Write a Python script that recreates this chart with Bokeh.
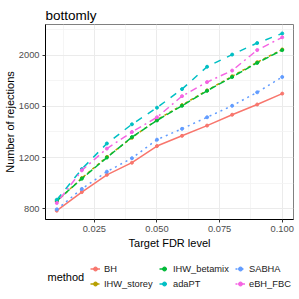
from bokeh.plotting import figure
from bokeh.layouts import column
from bokeh.models import FixedTicker, Legend, LegendItem, Label, NumeralTickFormatter, Range1d
from bokeh.embed import file_html
from bokeh.resources import INLINE

fdr_levels = [0.01, 0.02, 0.03, 0.04, 0.05, 0.06, 0.07, 0.08, 0.09, 0.10]
methods = ["BH", "IHW_storey", "IHW_betamix", "adaPT", "SABHA", "eBH_FBC"]
bh = [785, 930, 1065, 1160, 1290, 1370, 1450, 1535, 1615, 1700]
ihw_storey = [858, 1040, 1205, 1355, 1495, 1610, 1725, 1835, 1945, 2045]
ihw_betamix = [862, 1035, 1200, 1360, 1490, 1605, 1722, 1830, 1940, 2040]
adapt = [870, 1110, 1310, 1460, 1590, 1735, 1910, 2005, 2095, 2170]
sabha = [795, 955, 1090, 1195, 1340, 1425, 1515, 1605, 1710, 1830]
ebh_fbc = [845, 1100, 1270, 1400, 1515, 1680, 1790, 1880, 2040, 2140]
series = [bh, ihw_storey, ihw_betamix, adapt, sabha, ebh_fbc]
x_ticks = [0.025, 0.050, 0.075, 0.100]
y_ticks = [800, 1200, 1600, 2000]
x_minor = [0.0125, 0.0375, 0.0625, 0.0875]
y_minor = [1000, 1400, 1800, 2200]
legend_title = "method"

colors = ["#F8766D", "#B79F00", "#00BA38", "#00BFC4", "#619CFF", "#F564E3"]
dashes = ["solid", "3 3", "7 3", "7 7", "2 4", "2 4 7 4"]
FONT = "Liberation Sans"
LEFT = 45

p = figure(width=299, height=251, output_backend="svg", toolbar_location=None,
           x_range=Range1d(0.0055, 0.1045), y_range=Range1d(716, 2240),
           title="bottomly", min_border_left=LEFT, min_border_right=6,
           min_border_bottom=32, min_border_top=24)
p.title.text_font = FONT
p.title.text_font_size = "13.5px"
p.title.text_font_style = "normal"
p.title.text_color = "black"
p.title.standoff = 3

for vals, c, d in zip(series, colors, dashes):
    p.line(fdr_levels, vals, line_color=c, line_width=1.5, line_dash=d)
    p.scatter(fdr_levels, vals, size=3, fill_color=c, line_color=c)

for ax, ticks, minor in ((p.xaxis[0], x_ticks, x_minor), (p.yaxis[0], y_ticks, y_minor)):
    ax.ticker = FixedTicker(ticks=ticks, minor_ticks=minor)
    ax.major_label_text_font = FONT
    ax.major_label_text_font_size = "9.3px"
    ax.major_label_text_color = "#4D4D4D"
    ax.axis_label_text_font = FONT
    ax.axis_label_text_font_size = "11px"
    ax.axis_label_text_font_style = "normal"
    ax.axis_label_text_color = "black"
    ax.major_tick_in = 0
    ax.major_tick_out = 3
    ax.major_tick_line_color = "#333333"
    ax.minor_tick_line_color = None
    ax.axis_line_color = "black"
    ax.major_label_standoff = 2
    ax.axis_label_standoff = 2
p.yaxis[0].axis_label_standoff = 0
p.xaxis[0].formatter = NumeralTickFormatter(format="0.000")
p.xaxis[0].axis_label = "Target FDR level"
p.yaxis[0].axis_label = "Number of rejections"

for g in (p.xgrid[0], p.ygrid[0]):
    g.grid_line_color = "#EBEBEB"
    g.grid_line_width = 1
    g.minor_grid_line_color = "#F2F2F2"
    g.minor_grid_line_width = 0.8

p.outline_line_color = "#808080"
p.outline_line_width = 1

# legend panel below the chart (its frame lines up with the chart's frame)
lp = figure(width=299, height=48, output_backend="svg", toolbar_location=None,
            x_range=Range1d(0, 1), y_range=Range1d(0, 1), x_axis_type=None, y_axis_type=None,
            min_border=0)
lp.outline_line_color = None
lp.xgrid.visible = False
lp.ygrid.visible = False
keys = []
for c, d in zip(colors, dashes):
    ln = lp.line([-5, -4], [-5, -4], line_color=c, line_width=1.5, line_dash=d)
    sc = lp.scatter([-5], [-5], size=3, fill_color=c, line_color=c)
    keys.append([ln, sc])

col_x = [90 - LEFT, 159 - LEFT, 235 - LEFT]
for ci in range(3):
    items = [LegendItem(label=methods[k], renderers=keys[k]) for k in (2 * ci, 2 * ci + 1)]
    lg = Legend(items=items, location=(col_x[ci], 8), orientation="vertical",
                glyph_width=10, glyph_height=15, label_height=15, label_standoff=4,
                spacing=0, padding=0, margin=0, border_line_color=None,
                background_fill_alpha=0, label_text_font=FONT,
                label_text_font_size="9.3px", label_text_color="#1A1A1A")
    lp.add_layout(lg)

lp.add_layout(Label(x=47 - LEFT, y=23, x_units="screen", y_units="screen", text=legend_title,
                    text_font=FONT, text_font_size="11px", text_baseline="middle",
                    text_color="black"))

layout = column(p, lp, spacing=0)
open("out.html", "w").write(file_html(layout, INLINE))
